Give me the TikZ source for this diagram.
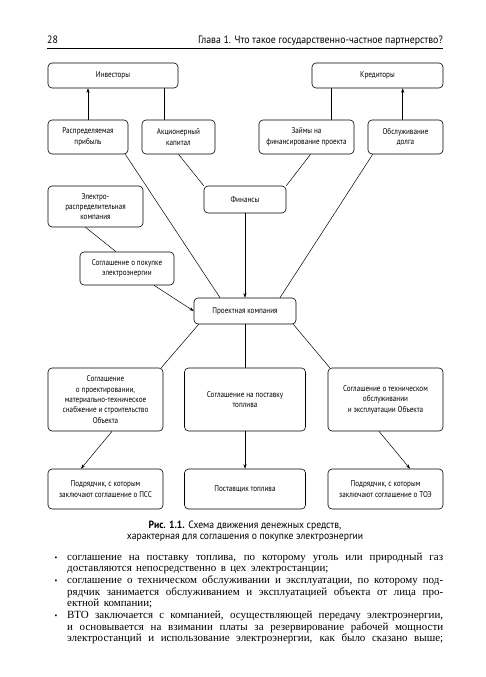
\documentclass[tikz,border=0pt]{standalone}
\usepackage{fontspec}
\setmainfont{Liberation Serif}
\newfontfamily\cond[FakeStretch=0.85]{PT Sans}
\newfontfamily\hdrfont[FakeStretch=0.92]{PT Sans}
\newfontfamily\bodyfont[FakeStretch=1.0]{Liberation Serif}
\newcommand\bsp{\spaceskip=0.4em plus 0.5em minus 0.1em\relax}
\usetikzlibrary{arrows.meta}
\begin{document}
\begin{tikzpicture}[x=1pt,y=-1pt,
  box/.style={draw, rounded corners=4pt, line width=0.6pt, align=center,
    font=\cond\fontsize{8.4}{10.4}\selectfont, inner sep=1pt},
  conn/.style={line width=0.5pt},
  arr/.style={conn, -{Stealth[length=4.5pt,width=3.2pt]}},
  hdr/.style={font=\hdrfont\fontsize{10.7}{12}\selectfont, inner sep=0pt},
  captxt/.style={font=\hdrfont\fontsize{10.5}{12}\selectfont, inner sep=0pt, anchor=base},
  bodytxt/.style={font=\bodyfont\fontsize{11}{11.7}\selectfont, inner sep=0pt, anchor=base west},
  bul/.style={font=\fontsize{8}{10}\selectfont, inner sep=0pt, anchor=base},
]
\fill[white] (0,0) rectangle (485,677);
\useasboundingbox (0,0) rectangle (485,677);

% header
\node[hdr, anchor=base west] (pg) at (47,44) {28};
\node[hdr, anchor=base east] (chap) at (443,44) {Глава 1. Что такое государственно-частное партнерство?};
\draw[line width=0.6pt] (47,48) -- (443,48);

% top row
\node[box, minimum width=130, minimum height=25] (inv) at (113,75.5) {Инвесторы};
\node[box, minimum width=131, minimum height=25] (cred) at (377.5,75.5) {Кредиторы};
\node[box, minimum width=80, minimum height=34] (dist) at (88,137) {Распределяемая\\прибыль};
\node[box, minimum width=73, minimum height=34] (eq) at (178.5,137) {Акционерный\\капитал};
\node[box, minimum width=95, minimum height=34] (loans) at (306.5,137) {Займы на\\финансирование проекта};
\node[box, minimum width=75, minimum height=34] (debt) at (405.5,137) {Обслуживание\\долга};

% middle
\node[box, minimum width=82, minimum height=27] (fin) at (245,199.5) {Финансы};
\node[box, minimum width=95, minimum height=41] (elec) at (95.5,206.5) {Электро-\\распределительная\\компания};
\node[box, minimum width=94, minimum height=33] (ppa) at (127,268.5) {Соглашение о покупке\\электроэнергии};
\node[box, minimum width=102, minimum height=26] (proj) at (245,311) {Проектная компания};

% agreements
\node[box, minimum width=115, minimum height=63] (a1) at (105.5,399.5) {Соглашение\\о проектировании,\\материально-техническое\\снабжение и строительство\\Объекта};
\node[box, minimum width=121, minimum height=63] (a2) at (245,399.5) {Соглашение на поставку\\топлива};
\node[box, minimum width=115, minimum height=63] (a3) at (385.5,399.5) {Соглашение о техническом\\обслуживании\\и эксплуатации Объекта};

% contractors
\node[box, minimum width=115, minimum height=40] (c1) at (105.5,489) {Подрядчик, с которым\\заключают соглашение о ПСС};
\node[box, minimum width=121, minimum height=40] (c2) at (245,489) {Поставщик топлива};
\node[box, minimum width=115, minimum height=40] (c3) at (385.5,489) {Подрядчик, с которым\\заключают соглашение о ТОЭ};

% connectors
\draw[arr] (dist.north) -- (dist.north |- inv.south);
\draw[conn] ([xshift=23]eq.north west) -- ([xshift=23]eq.north west |- inv.south);
\draw[conn] ([xshift=73]loans.north west) -- ([xshift=73]loans.north west |- cred.south);
\draw[arr] ([xshift=35]debt.north west) -- ([xshift=35]debt.north west |- cred.south);

\draw[conn] ([xshift=-3]dist.south east) -- ([xshift=-25]proj.north);
\draw[conn] (eq.south) -- (fin.north west);
\draw[conn] ([xshift=4]loans.south) -- (fin.north east);
\draw[conn] ([xshift=5]debt.south west) -- ([xshift=35]proj.north);
\draw[arr] (fin.south) -- (proj.north);
\draw[conn] ([xshift=-10]elec.south) -- ([xshift=-11]ppa.north);
\draw[arr] ([xshift=27]ppa.south) -- (proj.west);

\draw[conn] ([xshift=5]proj.south west) -- ([xshift=-2]a1.north east);
\draw[conn] (proj.south) -- (a2.north);
\draw[conn] ([xshift=-3]proj.south east) -- ([xshift=2]a3.north west);

\draw[arr] ([xshift=6.5]a1.south) -- ([xshift=-24.5]c1.north);
\draw[arr] (a2.south) -- (c2.north);
\draw[arr] ([xshift=-6.5]a3.south) -- ([xshift=24.5]c3.north);

% caption
\node[captxt] (cap1) at (245,528) {\textbf{Рис. 1.1.} Схема движения денежных средств,};
\node[captxt] (cap2) at (245,539.5) {характерная для соглашения о покупке электроэнергии};

% body text
\node[bul] (b1) at (56,560) {\textbullet};
\node[bodytxt] (l1) at (67,560) {\bsp\makebox[376pt][s]{соглашение на поставку топлива, по которому уголь или природный газ}};
\node[bodytxt] (l2) at (67,571.7) {\bsp доставляются непосредственно в цех электростанции;};
\node[bul] (b2) at (56,583.4) {\textbullet};
\node[bodytxt] (l3) at (67,583.4) {\bsp\makebox[376pt][s]{соглашение о техническом обслуживании и эксплуатации, по которому под-}};
\node[bodytxt] (l4) at (67,595.1) {\bsp\makebox[376pt][s]{рядчик занимается обслуживанием и эксплуатацией объекта от лица про-}};
\node[bodytxt] (l5) at (67,606.8) {\bsp ектной компании;};
\node[bul] (b3) at (56,618.5) {\textbullet};
\node[bodytxt] (l6) at (67,618.5) {\bsp\makebox[376pt][s]{ВТО заключается с компанией, осуществляющей передачу электроэнергии,}};
\node[bodytxt] (l7) at (67,630.2) {\bsp\makebox[376pt][s]{и основывается на взимании платы за резервирование рабочей мощности}};
\node[bodytxt] (l8) at (67,641.9) {\bsp\makebox[376pt][s]{электростанций и использование электроэнергии, как было сказано выше;}};
\end{tikzpicture}
\end{document}
